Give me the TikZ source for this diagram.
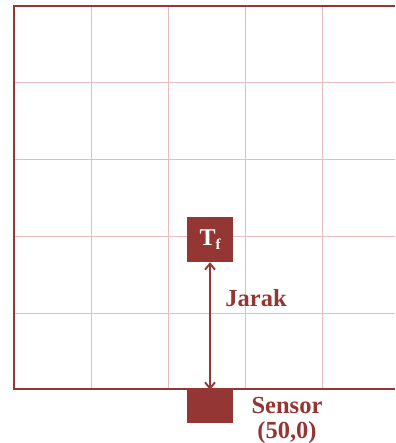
\documentclass[tikz,border=0pt]{standalone}
\usepackage{fontspec}
\setmainfont{Liberation Serif}
\usetikzlibrary{arrows.meta}
\definecolor{dred}{HTML}{943634}
\definecolor{gridc}{HTML}{E6BDBD}
\tikzset{
  gridline/.style={draw=gridc, line width=0.7pt},
  border/.style={draw=dred, line width=2.6pt},
  boxnode/.style={fill=dred, draw=none, inner sep=0pt, text=white, font=\bfseries\fontsize{24}{26}\selectfont},
  lbl/.style={text=dred, font=\bfseries\fontsize{24.5}{25}\selectfont, inner sep=0pt, align=center},
  dist/.style={draw=dred, line width=1.9pt, {Straight Barb[length=6pt,width=10pt]}-{Straight Barb[length=6pt,width=10pt]}}
}
\begin{document}
\begin{tikzpicture}[x=1pt,y=-1pt]
\useasboundingbox (0,0) rectangle (395,443);
% grid
\foreach \gx in {91,168,245,322} \draw[gridline] (\gx,6) -- (\gx,389);
\foreach \gy in {82.5,159,236,313} \draw[gridline] (14,\gy) -- (395,\gy);
% border
\draw[border] (395,6) -- (14,6) -- (14,389) -- (395,389);
% nodes
\node[boxnode, minimum width=46pt, minimum height=45pt] (tf) at (210,239.5) {T\raisebox{-0.35ex}{\fontsize{15}{16}\selectfont f}};
\node[boxnode, minimum width=46pt, minimum height=33pt] (sensor) at (210,406.5) {};
\draw[dist] (tf.south) -- (sensor.north);
\node[lbl] (jarak) at (256,298) {Jarak};
\node[lbl] (slbl) at (287,420) {Sensor\\(50,0)};
\end{tikzpicture}
\end{document}
